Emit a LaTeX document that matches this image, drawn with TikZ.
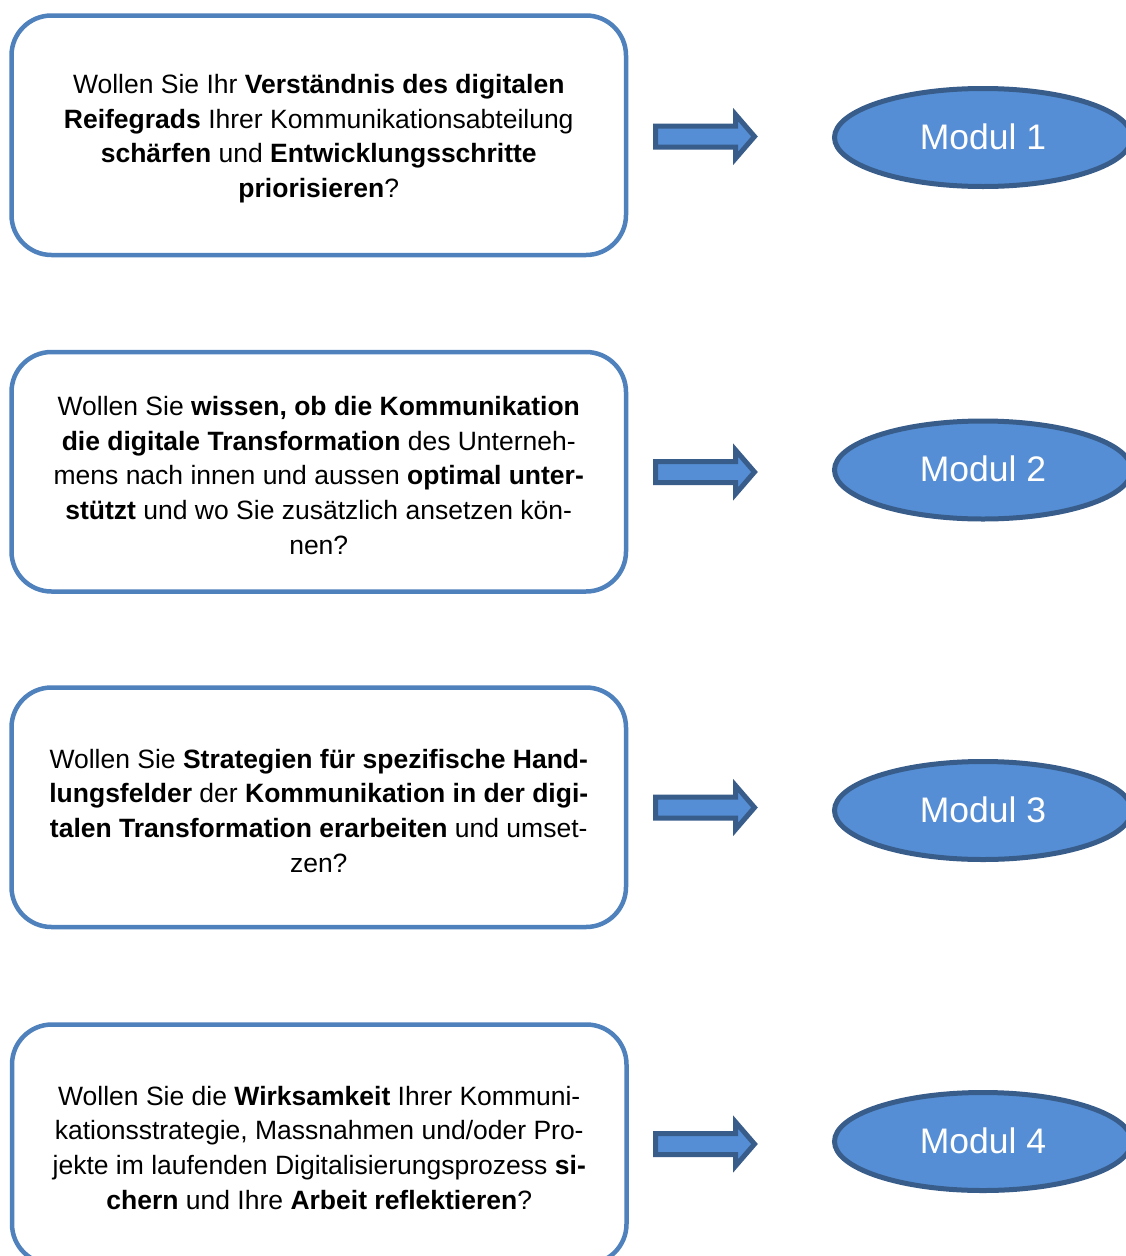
\documentclass[tikz,border=0pt]{standalone}
\usepackage{fontspec}
\setmainfont{Liberation Sans}
\usetikzlibrary{shapes.geometric}
\definecolor{boxblue}{RGB}{79,129,189}
\definecolor{fillblue}{RGB}{85,142,213}
\definecolor{darkblue}{RGB}{56,93,138}
\tikzset{
  qbox/.style={draw=boxblue, line width=4.5pt, rounded corners=40pt, fill=white,
    minimum width=614.5pt, minimum height=239.5pt, inner sep=0pt},
  qtext/.style={inner sep=0pt, align=center, yshift=-3.5pt,
    font=\fontsize{26.5}{34.7}\selectfont},
  modul/.style={ellipse, draw=darkblue, fill=fillblue, line width=5pt,
    minimum width=297pt, minimum height=98pt, inner sep=0pt, text=white,
    font=\fontsize{35.5}{40}\selectfont},
  blockarrow/.style={draw=darkblue, fill=fillblue, line width=5pt, line join=miter}
}
\newcommand{\myarrow}[1]{%
  \draw[blockarrow, shift={(#1)}] (-50.5,-10.5) -- (29.5,-10.5) -- (29.5,-22) -- (48.5,0)
    -- (29.5,22) -- (29.5,10.5) -- (-50.5,10.5) -- cycle;}
\begin{document}
\begin{tikzpicture}[x=1pt,y=-1pt]
\useasboundingbox (0,0) rectangle (1126,1256);
\clip (0,0) rectangle (1126,1256);
\fill[white] (0,0) rectangle (1126,1256);

\node[qbox] (q1) at (318.75,135.25) {};
\node[qtext] (t1) at (q1.center) {Wollen Sie Ihr \textbf{Verständnis des digitalen}\\
\textbf{Reifegrads} Ihrer Kommunikationsabteilung\\
\textbf{schärfen} und \textbf{Entwicklungsschritte}\\
\textbf{priorisieren}?};

\node[qbox] (q2) at (318.75,471.75) {};
\node[qtext] (t2) at (q2.center) {Wollen Sie \textbf{wissen, ob die Kommunikation}\\
\textbf{die digitale Transformation} des Unterneh-\\
mens nach innen und aussen \textbf{optimal unter-}\\
\textbf{stützt} und wo Sie zusätzlich ansetzen kön-\\
nen?};

\node[qbox] (q3) at (318.75,807.25) {};
\node[qtext] (t3) at (q3.center) {Wollen Sie \textbf{Strategien für spezifische Hand-}\\
\textbf{lungsfelder} der \textbf{Kommunikation in der digi-}\\
\textbf{talen Transformation erarbeiten} und umset-\\
zen?};

\node[qbox] (q4) at (319.25,1144.25) {};
\node[qtext] (t4) at (q4.center) {Wollen Sie die \textbf{Wirksamkeit} Ihrer Kommuni-\\
kationsstrategie, Massnahmen und/oder Pro-\\
jekte im laufenden Digitalisierungsprozess \textbf{si-}\\
\textbf{chern} und Ihre \textbf{Arbeit reflektieren}?};

\coordinate (a1) at (706,136.5);
\coordinate (a2) at (706,472);
\coordinate (a3) at (706,807.5);
\coordinate (a4) at (706,1144);
\myarrow{a1}
\myarrow{a2}
\myarrow{a3}
\myarrow{a4}

\node[modul] (m1) at (983,137.5) {\raisebox{2pt}{Modul 1}};
\node[modul] (m2) at (983,470) {\raisebox{2pt}{Modul 2}};
\node[modul] (m3) at (983,810.5) {\raisebox{2pt}{Modul 3}};
\node[modul] (m4) at (983,1141.5) {\raisebox{2pt}{Modul 4}};
\end{tikzpicture}
\end{document}
